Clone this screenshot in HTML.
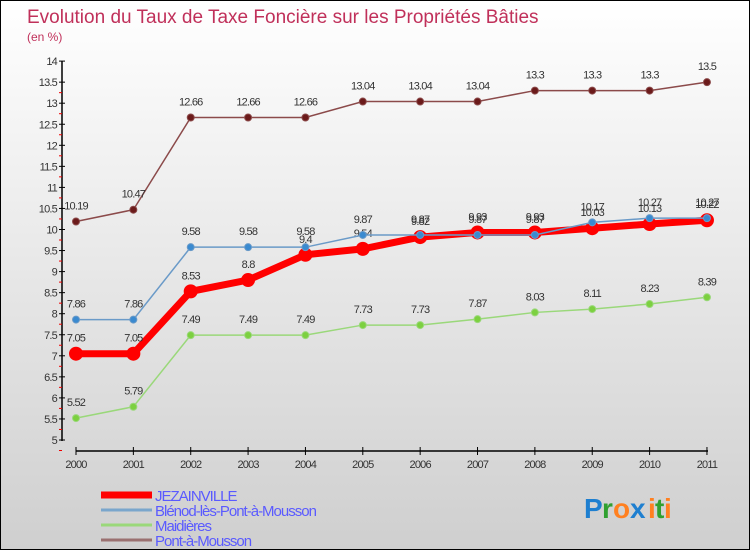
<!DOCTYPE html>
<html><head><meta charset="utf-8"><style>
body{margin:0}
#c{width:748px;height:548px;border:1px solid #000;background:linear-gradient(#ffffff,#cfcfcf);position:relative;overflow:hidden;font-family:"Liberation Sans",sans-serif}
</style></head><body>
<div id="c">
<svg id="s" width="748" height="548"></svg>
</div>
<script>
const years=["2000","2001","2002","2003","2004","2005","2006","2007","2008","2009","2010","2011"];
const jez=[7.05,7.05,8.53,8.8,9.4,9.54,9.82,9.93,9.93,10.03,10.13,10.22];
const blen=[7.86,7.86,9.58,9.58,9.58,9.87,9.87,9.87,9.87,10.17,10.27,10.27];
const maid=[5.52,5.79,7.49,7.49,7.49,7.73,7.73,7.87,8.03,8.11,8.23,8.39];
const pam=[10.19,10.47,12.66,12.66,12.66,13.04,13.04,13.04,13.3,13.3,13.3,13.5];
const yTicks=[5,5.5,6,6.5,7,7.5,8,8.5,9,9.5,10,10.5,11,11.5,12,12.5,13,13.5,14];
const s=document.getElementById('s');const NS="http://www.w3.org/2000/svg";
function X(i){return 75+i*57.36}
function Y(v){return 439-(v-5)*42.1}
function el(t,a,p){const e=document.createElementNS(NS,t);for(const k in a)e.setAttribute(k,a[k]);(p||s).appendChild(e);return e}
function tx(x,y,str,a){const e=el('text',Object.assign({x:x,y:y},a));e.textContent=str;return e}
let t=tx(26,22,"Evolution du Taux de Taxe Foncière sur les Propriétés Bâties",{fill:"#c0305a","font-size":"19"});

t=tx(26,40,"(en %)",{fill:"#c0305a","font-size":"12"});

// axes
let a=el('line',{x1:61,y1:60,x2:61,y2:440,stroke:"#000","stroke-width":1.5});

a=el('line',{x1:75,y1:450,x2:707,y2:450,stroke:"#000","stroke-width":1.5});

yTicks.forEach((v,i)=>{const y=Y(v);
 el('line',{x1:58,y1:y,x2:64,y2:y,stroke:"#000"});
 el('line',{x1:58,y1:y+10.5,x2:61,y2:y+10.5,stroke:i<yTicks.length-1?"#e00":"none"});
 const l=tx(56,y+4,String(v),{fill:"#333","font-size":"11","text-anchor":"end","letter-spacing":"-0.8"});
 });
years.forEach((yr,i)=>{el('line',{x1:X(i),y1:446,x2:X(i),y2:454,stroke:"#000"});
 const l=tx(X(i),467,yr,{fill:"#333","font-size":"11","text-anchor":"middle","letter-spacing":"-0.8"});
 });
function series(d,col,w,r,fill,name){
 const g=el('g',{});
 el('polyline',{points:d.map((v,i)=>X(i)+","+Y(v)).join(" "),fill:"none",stroke:col,"stroke-width":w},g);
 d.forEach((v,i)=>{const c=el('circle',{cx:X(i),cy:Y(v),r:r,fill:fill,stroke:col,"stroke-width":1},g);
  
  tx(X(i),Y(v)-12,String(v),{fill:"#333","font-size":"11","text-anchor":"middle","letter-spacing":"-0.8"},g);});
}
series(pam,"#8b4a4a",1.5,3.5,"#6b1a1a","pont-a-mousson-series");
series(maid,"#9ad87a",1.5,3.5,"#7cd040","maidieres-series");
series(jez,"#f00",7,6.5,"#f00","jezainville-series");
series(blen,"#6a9ac8",1.5,3.5,"#3a8ad0","blenod-series");
const leg=[["JEZAINVILLE","#f00",7],["Blénod-lès-Pont-à-Mousson","#7aa6cc",3],["Maidières","#9ad87a",3],["Pont-à-Mousson","#9a7070",3]];
leg.forEach((L,i)=>{const y=494+i*15;const g=el('g',{});
 el('line',{x1:100,y1:y,x2:151,y2:y,stroke:L[1],"stroke-width":L[2]},g);
 tx(154,y+6,L[0],{fill:"#5a5aff","font-size":"15","letter-spacing":"-1"},g);});
const lg=el('g',{});
[["P","#1e7fd0"],["r","#30a030"],["o","#ff8020"],["x","#1e7fd0"],["i","#ff8020"],["t","#30a030"],["i","#ff8020"]].forEach((c,i)=>{
 tx(583+[0,18,29,46,64,71,80][i],517,c[0],{fill:c[1],"font-size":"28","font-weight":"bold"},lg);});
</script>
</body></html>
